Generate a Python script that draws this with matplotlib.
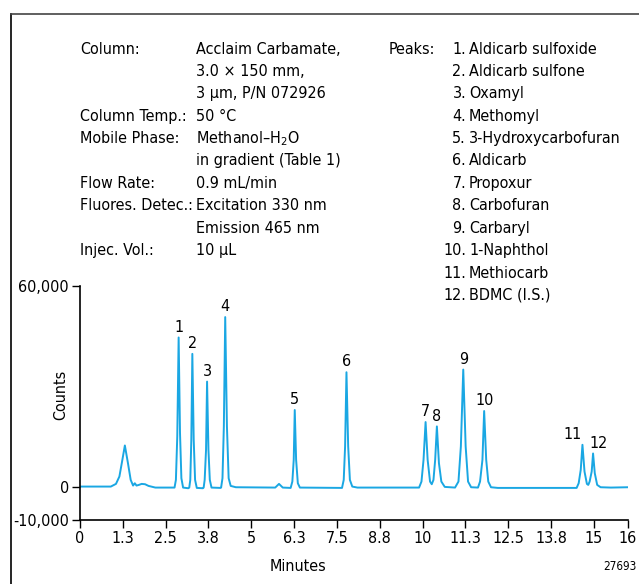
import matplotlib
matplotlib.use("Agg")
import matplotlib.pyplot as plt
from matplotlib.lines import Line2D
import numpy as np

# trace (minutes, counts)
time_min = [0.0, 0.9, 1.05, 1.15, 1.22, 1.31, 1.40, 1.48, 1.55, 1.60, 1.65, 1.72, 1.80, 1.90, 2.0, 2.2,
            2.76, 2.80, 2.84, 2.88, 2.92, 2.96, 3.01, 3.16,
            3.19, 3.22, 3.25, 3.28, 3.32, 3.36, 3.41, 3.59,
            3.61, 3.64, 3.68, 3.71, 3.75, 3.79, 3.84, 4.10,
            4.12, 4.16, 4.20, 4.24, 4.29, 4.34, 4.40, 4.55, 5.70,
            5.81, 5.92, 6.15,
            6.20, 6.24, 6.27, 6.31, 6.36, 6.42, 7.65,
            7.70, 7.74, 7.78, 7.83, 7.88, 7.95, 8.10, 9.90,
            9.97, 10.03, 10.09, 10.15, 10.22, 10.27, 10.32, 10.37, 10.42, 10.48, 10.55, 10.65, 10.95,
            11.05, 11.12, 11.19, 11.26, 11.33, 11.42, 11.62,
            11.68, 11.75, 11.80, 11.86, 11.92, 12.00, 12.20, 14.50,
            14.56, 14.62, 14.67, 14.73, 14.80, 14.84, 14.88, 14.94, 14.98, 15.03, 15.10, 15.20, 15.50, 16.0]
counts = [0, 0, 800, 3000, 7000, 12300, 7000, 2000, 300, 1000, 300, 500, 800, 700, 200, -300,
          -300, 2000, 15000, 44600, 16000, 2500, -300, -500,
          -300, 2000, 14000, 39700, 14000, 2000, -400, -500,
          -300, 2000, 11000, 31400, 11000, 2000, -300, -400,
          -300, 2500, 18000, 50700, 18000, 2500, 200, -200, -300,
          800, -300, -400,
          1500, 8000, 22900, 8000, 1000, -300, -400,
          2000, 12000, 34200, 12000, 2000, 0, -300, -300,
          1500, 8000, 19300, 8000, 1500, 700, 2000, 8000, 18000, 7000, 1500, -100, -300,
          1500, 12000, 35000, 12000, 1500, -200, -300,
          1500, 8000, 22600, 8000, 1500, -200, -400, -400,
          1000, 5000, 12500, 4500, 800, 500, 1500, 4500, 9900, 4000, 500, -200, -300, -200]

peak_numbers = ["1", "2", "3", "4", "5", "6", "7", "8", "9", "10", "11", "12"]
peak_times = [2.88, 3.28, 3.71, 4.24, 6.27, 7.78, 10.09, 10.42, 11.19, 11.80, 14.67, 14.98]
peak_heights = [44600, 39700, 31400, 50700, 22900, 34200, 19300, 18000, 35000, 22600, 12500, 9900]
peak_names = ["Aldicarb sulfoxide", "Aldicarb sulfone", "Oxamyl", "Methomyl",
              "3-Hydroxycarbofuran", "Aldicarb", "Propoxur", "Carbofuran", "Carbaryl",
              "1-Naphthol", "Methiocarb", "BDMC (I.S.)"]

cond_labels = ["Column:", "", "", "Column Temp.:", "Mobile Phase:", "", "Flow Rate:",
               "Fluores. Detec.:", "", "Injec. Vol.:"]
cond_values = ["Acclaim Carbamate,", "3.0 \u00d7 150 mm,", "3 \u00b5m, P/N 072926", "50 \u00b0C",
               "Methanol\u2013H$_2$O", "in gradient (Table 1)", "0.9 mL/min",
               "Excitation 330 nm", "Emission 465 nm", "10 \u00b5L"]

x_tick_labels = ["0", "1.3", "2.5", "3.8", "5", "6.3", "7.5", "8.8", "10", "11.3", "12.5", "13.8", "15", "16"]
y_ticks = [-10000, 0, 60000]
y_tick_labels = ["-10,000", "0", "60,000"]

plt.rcParams['font.family'] = ['DejaVu Sans']
plt.rcParams['font.stretch'] = 'condensed'
plt.rcParams['mathtext.fontset'] = 'custom'
plt.rcParams['mathtext.rm'] = 'DejaVu Sans:stretch=condensed'
plt.rcParams['mathtext.default'] = 'rm'

FS = 11.5
W, H = 639, 584
fig = plt.figure(figsize=(W / 100, H / 100), dpi=100)
ax = fig.add_axes([80 / W, 1 - 520 / H, (628 - 80) / W, (520 - 286) / H])

ax.plot(time_min, counts, color='#1aa7e3', lw=1.4)
ax.set_xlim(0, 16)
ax.set_ylim(-10000, 60000)

xt = list(np.arange(0, 15.01, 1.25)) + [16]
ax.set_xticks(xt, x_tick_labels)
ax.set_yticks(y_ticks, y_tick_labels)
ax.tick_params(direction='out', length=6, width=1, labelsize=FS, pad=2)
for s in ['top', 'right']:
    ax.spines[s].set_visible(False)
for s in ['left', 'bottom']:
    ax.spines[s].set_linewidth(1.2)

ax.set_xlabel("Minutes", fontsize=FS)
ax.xaxis.set_label_coords((298 - 80) / (628 - 80), -0.165)
ax.set_ylabel("Counts", fontsize=FS)
ax.yaxis.set_label_coords(-0.022, (520 - 395) / (520 - 286))

label_dx = {"11": -7, "12": 4}
for num, t, h in zip(peak_numbers, peak_times, peak_heights):
    ax.annotate(num, (t, h), xytext=(label_dx.get(num, 0), 2), textcoords='offset points',
                ha='center', va='bottom', fontsize=FS)

# conditions block
line_h = 22.4
for i, (lab, val) in enumerate(zip(cond_labels, cond_values)):
    y = 1 - (49 + i * line_h) / H
    if lab:
        fig.text(80 / W, y, lab, fontsize=FS, va='center')
    fig.text(196 / W, y, val, fontsize=FS, va='center')

fig.text(389 / W, 1 - 49 / H, "Peaks:", fontsize=FS, va='center')
for i, (num, name) in enumerate(zip(peak_numbers, peak_names)):
    y = 1 - (49 + i * line_h) / H
    fig.text(466 / W, y, num + ".", fontsize=FS, va='center', ha='right')
    fig.text(469 / W, y, name, fontsize=FS, va='center')

fig.text(637 / W, 1 - 566 / H, "27693", fontsize=8.5, va='center', ha='right')

# frame lines
fig.add_artist(Line2D([11 / W, 11 / W], [0, 1 - 14 / H], color='black', lw=1.2))
fig.add_artist(Line2D([11 / W, 1], [1 - 14 / H, 1 - 14 / H], color='#444444', lw=1.2))

fig.savefig("out.png", dpi=100)
